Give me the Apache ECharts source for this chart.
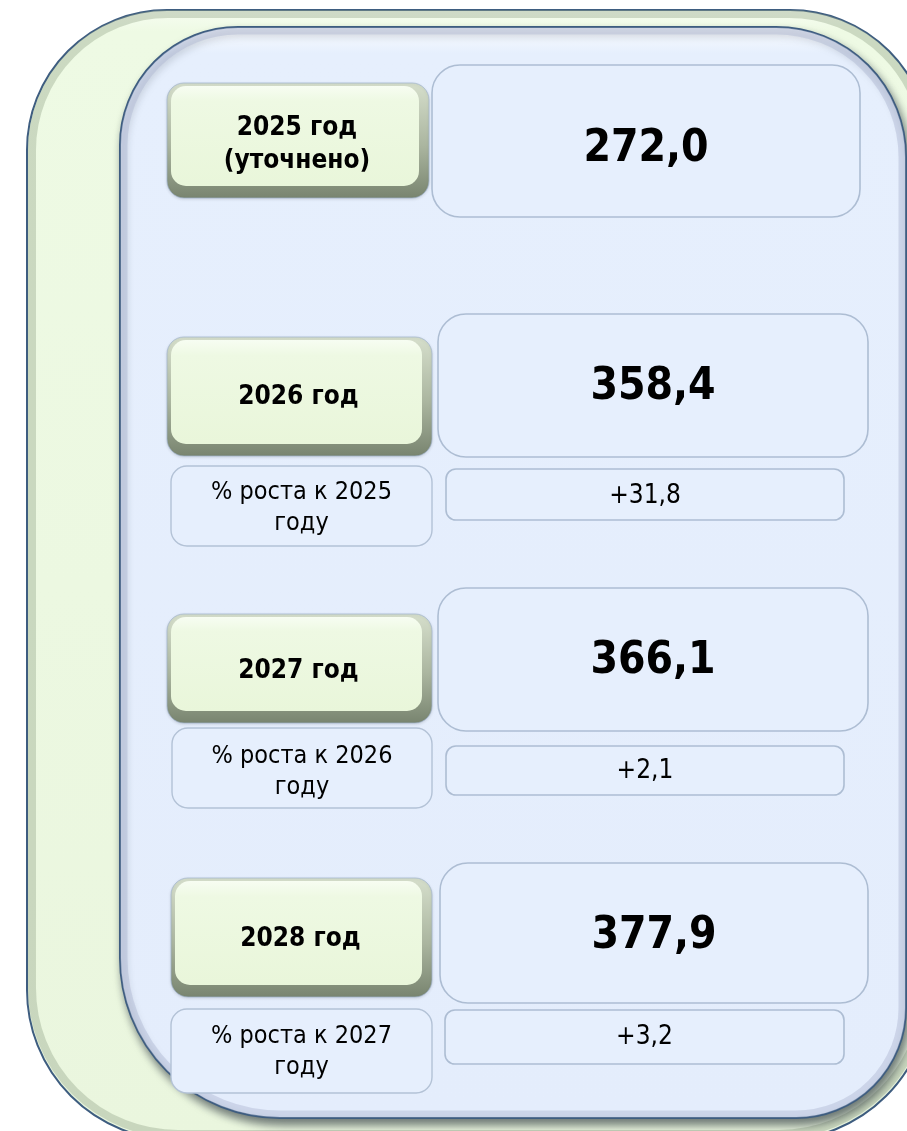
<!DOCTYPE html>
<html>
<head>
<meta charset="utf-8">
<script src="https://cdn.jsdelivr.net/npm/echarts@6/dist/echarts.min.js"></script>
<style>
html,body{margin:0;padding:0;background:#ffffff;}
#chart{width:907px;height:1131px;}
</style>
</head>
<body>
<div id="chart"></div>
<script>
// ---- data ----
const yearLabels = ['2025 год\n(уточнено)', '2026 год', '2027 год', '2028 год'];
const yearValues = [272.0, 358.4, 366.1, 377.9];
const growthLabels = [null, '% роста к 2025\nгоду', '% роста к 2026\nгоду', '% роста к 2027\nгоду'];
const growthValues = [null, 31.8, 2.1, 3.2];

// ---- layout (positions only) ----
const layout = [
  { btn: [167, 83, 262, 115], val: [432, 65, 428, 152], valY: 150, btnY: 145 },
  { btn: [167, 337, 265, 119], val: [438, 314, 430, 143], valY: 388, btnY: 397,
    lab: [171, 466, 261, 80], labY: 508, gro: [446, 469, 398, 51], groY: 496 },
  { btn: [167, 614, 265, 109], val: [438, 588, 430, 143], valY: 662, btnY: 671,
    lab: [172, 728, 260, 80], labY: 772, gro: [446, 746, 398, 49], groY: 771 },
  { btn: [171, 878, 261, 119], val: [440, 863, 428, 140], valY: 937, btnY: 939,
    lab: [171, 1009, 261, 84], labY: 1052, gro: [445, 1010, 399, 54], groY: 1037 }
];

const FONT = '"DejaVu Sans Condensed", "DejaVu Sans", Verdana, sans-serif';
const fmt = v => v.toFixed(1).replace('.', ',');
const fmtG = v => '+' + v.toFixed(1).replace('.', ',');

function grad(x0, y0, x1, y1, stops) {
  return new echarts.graphic.LinearGradient(x0, y0, x1, y1,
    stops.map(s => ({ offset: s[0], color: s[1] })));
}

const els = [];
// outer green panel
els.push({ type: 'rect', z: 1,
  shape: { x: 27, y: 10, width: 903, height: 1130, r: [140, 140, 150, 150] },
  style: { fill: grad(0, 0, 0, 1, [[0, '#f7fdf1'], [0.02, '#eefae4'], [1, '#eaf6de']]),
           stroke: '#3e5d80', lineWidth: 2 } });
els.push({ type: 'rect', z: 2, silent: true,
  shape: { x: 32, y: 14, width: 893, height: 1120, r: [136, 136, 146, 146] },
  style: { fill: null, stroke: 'rgba(150,168,140,0.4)', lineWidth: 8 } });
// inner blue panel
els.push({ type: 'rect', z: 3,
  shape: { x: 120, y: 27, width: 786, height: 1091, r: [118, 130, 110, 160] },
  style: { fill: grad(0, 0, 0, 1, [[0, '#fafcff'], [0.025, '#e6effd'], [1, '#e4edfc']]),
           stroke: '#3e5d80', lineWidth: 2,
           shadowColor: 'rgba(30,40,50,0.6)', shadowBlur: 8, shadowOffsetX: 3, shadowOffsetY: 6 } });
els.push({ type: 'rect', z: 4, silent: true,
  shape: { x: 124, y: 31, width: 778, height: 1083, r: [114, 126, 106, 156] },
  style: { fill: null, stroke: 'rgba(175,185,210,0.45)', lineWidth: 7 } });

yearLabels.forEach((lbl, i) => {
  const L = layout[i];
  const [bx, by, bw, bh] = L.btn;
  // button base (bevel/shadow body)
  els.push({ type: 'rect', z: 10,
    shape: { x: bx, y: by, width: bw, height: bh, r: 17 },
    style: { fill: grad(0, 0, 0, 1, [[0, '#d6dfcc'], [0.55, '#aab59f'], [1, '#78846f']]),
             stroke: 'rgba(160,180,205,0.7)', lineWidth: 1,
             shadowColor: 'rgba(0,0,0,0.12)', shadowBlur: 3, shadowOffsetY: 1 } });
  // button face
  els.push({ type: 'rect', z: 11,
    shape: { x: bx + 4, y: by + 3, width: bw - 14, height: bh - 15, r: 15 },
    style: { fill: grad(0, 0, 0, 1, [[0, '#f7fdf2'], [0.15, '#eef9e3'], [1, '#e9f6da']]) } });
  els.push({ type: 'text', z: 12,
    x: bx + (bw - 10) / 2 + 4, y: L.btnY,
    style: { text: lbl, fontFamily: FONT, fontWeight: 'bold', fontSize: 26, lineHeight: 33,
             fill: '#000000', align: 'center', verticalAlign: 'middle' } });
  // value box
  const [vx, vy, vw, vh] = L.val;
  els.push({ type: 'rect', z: 10,
    shape: { x: vx, y: vy, width: vw, height: vh, r: 28 },
    style: { fill: '#e6effd', stroke: '#adbdd3', lineWidth: 1.6 } });
  els.push({ type: 'text', z: 12, x: vx + vw / 2, y: L.valY,
    style: { text: fmt(yearValues[i]), fontFamily: FONT, fontWeight: 'bold', fontSize: 44,
             fill: '#000000', align: 'center', verticalAlign: 'middle' } });
  if (growthLabels[i]) {
    const [lx, ly, lw, lh] = L.lab;
    els.push({ type: 'rect', z: 10,
      shape: { x: lx, y: ly, width: lw, height: lh, r: 16 },
      style: { fill: '#e6effd', stroke: '#b3c2d6', lineWidth: 1.4 } });
    els.push({ type: 'text', z: 12, x: lx + lw / 2, y: L.labY,
      style: { text: growthLabels[i], fontFamily: FONT, fontSize: 25, lineHeight: 31,
               fill: '#000000', align: 'center', verticalAlign: 'middle' } });
    const [gx, gy, gw, gh] = L.gro;
    els.push({ type: 'rect', z: 10,
      shape: { x: gx, y: gy, width: gw, height: gh, r: 10 },
      style: { fill: '#e6effd', stroke: '#adbdd3', lineWidth: 1.6 } });
    els.push({ type: 'text', z: 12, x: gx + gw / 2, y: L.groY,
      style: { text: fmtG(growthValues[i]), fontFamily: FONT, fontSize: 26,
               fill: '#000000', align: 'center', verticalAlign: 'middle' } });
  }
});

const chart = echarts.init(document.getElementById('chart'), null, { renderer: 'canvas' });
chart.setOption({
  backgroundColor: '#ffffff',
  animation: false,
  graphic: { elements: els }
});
</script>
</body>
</html>
